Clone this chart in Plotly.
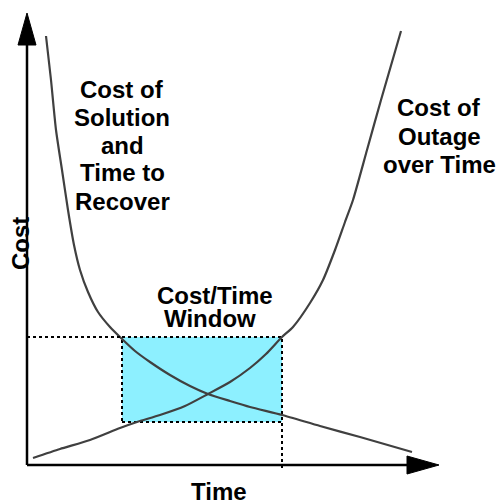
import plotly.graph_objects as go

# Conceptual data (Time on x, Cost on y), origin at axis corner
solution_time = [19, 24, 29, 35, 41, 47, 53, 61, 71, 83, 94, 108, 123, 143, 163, 181, 203, 223, 255, 293, 333, 385]
solution_cost = [429, 385, 335, 295, 255, 220, 195, 173, 153, 138, 127, 114, 103, 90, 79, 71, 64, 58, 50, 39, 28, 13]

outage_time = [6, 33, 63, 93, 110, 133, 158, 181, 203, 223, 239, 255, 266, 283, 296, 308, 318, 326, 340, 354, 374]
outage_cost = [7, 16, 25, 37, 43, 50, 59, 71, 83, 97, 111, 128, 138, 162, 185, 215, 243, 265, 315, 365, 434]

window_time = [95, 255]
window_cost = [43, 128]

x_axis_end = 412
y_axis_end = 452

FONT = "Liberation Sans, Arial, sans-serif"

fig = go.Figure()

# Window rectangle
fig.add_shape(type="rect", x0=window_time[0], x1=window_time[1], y0=window_cost[0], y1=window_cost[1],
              fillcolor="#8DF0FF", line=dict(color="black", width=2, dash="dot"), layer="below")
# dotted guides
fig.add_shape(type="line", x0=0, x1=window_time[0], y0=window_cost[1], y1=window_cost[1],
              line=dict(color="black", width=2, dash="dot"))
fig.add_shape(type="line", x0=window_time[1], x1=window_time[1], y0=-3, y1=window_cost[0],
              line=dict(color="black", width=2, dash="dot"))

# curves
fig.add_trace(go.Scatter(x=solution_time, y=solution_cost, mode="lines",
                         line=dict(color="#404040", width=2.2, shape="spline", smoothing=0.6),
                         hoverinfo="skip"))
fig.add_trace(go.Scatter(x=outage_time, y=outage_cost, mode="lines",
                         line=dict(color="#404040", width=2.2, shape="spline", smoothing=0.6),
                         hoverinfo="skip"))

# axes
head = 32
half = 9
fig.add_shape(type="line", x0=0, x1=0, y0=0, y1=y_axis_end - head, line=dict(color="black", width=2.5))
fig.add_shape(type="line", x0=0, x1=x_axis_end - head, y0=0, y1=0, line=dict(color="black", width=2.5))
fig.add_trace(go.Scatter(x=[-half, half, 0, -half], y=[y_axis_end - head, y_axis_end - head, y_axis_end, y_axis_end - head],
                         mode="lines", fill="toself", fillcolor="black", line=dict(color="black", width=1),
                         hoverinfo="skip"))
fig.add_trace(go.Scatter(x=[x_axis_end - head, x_axis_end - head, x_axis_end, x_axis_end - head],
                         y=[-half, half, 0, -half],
                         mode="lines", fill="toself", fillcolor="black", line=dict(color="black", width=1),
                         hoverinfo="skip"))

def label(text, x, y, size=24, angle=0):
    fig.add_annotation(x=x, y=y, xref="x", yref="y", text="<b>%s</b>" % text, showarrow=False,
                       font=dict(family=FONT, size=size, color="black"), textangle=angle,
                       xanchor="center", yanchor="middle")

left_lines = ["Cost of", "Solution", "and", "Time to", "Recover"]
left_y = [376, 348, 320, 293, 264]
for t, y in zip(left_lines, left_y):
    label(t, 95, y)

right_lines = ["Cost of", "Outage", "over Time"]
right_y = [358, 329, 301]
for t, y in zip(right_lines, right_y):
    label(t, 412, y)

label("Cost/Time", 188, 170)
label("Window", 183, 147)
label("Time", 192, -26)
label("Cost", -7, 221, angle=-90)

fig.update_layout(
    width=499, height=504,
    margin=dict(l=0, r=0, t=0, b=0),
    paper_bgcolor="white", plot_bgcolor="white",
    showlegend=False,
    xaxis=dict(range=[-27, 472], visible=False, fixedrange=True),
    yaxis=dict(range=[-39, 465], visible=False, fixedrange=True),
)

fig.write_html("out.html", config={"displayModeBar": False},
               post_script="document.body.style.margin='0';document.body.style.overflow='hidden';")
